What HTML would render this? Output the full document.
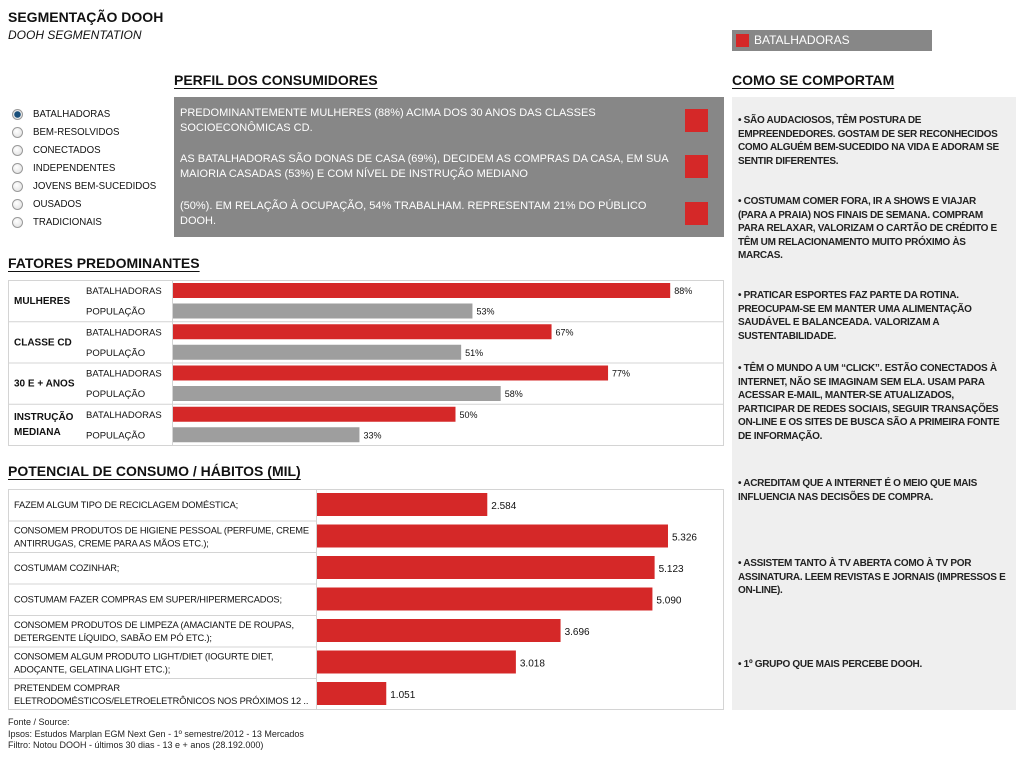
<!DOCTYPE html>
<html><head><meta charset="utf-8">
<style>
body{margin:0;width:1024px;height:768px;background:#fff;position:relative;font-family:"Liberation Sans",sans-serif;color:#111;overflow:hidden}
.a{position:absolute;white-space:nowrap}
.h{font-weight:bold;font-size:14px;text-decoration:underline;text-underline-offset:3px}
.rad{position:absolute;left:12px;width:11px;height:11px;border-radius:50%;border:1px solid #999;background:radial-gradient(circle at 40% 35%,#fff,#ddd);box-sizing:border-box}
.rt{position:absolute;left:33px;font-size:9.7px;white-space:nowrap}
.pt{position:absolute;left:180px;color:#fff;font-size:11px;line-height:15px;white-space:nowrap}
.rq{position:absolute;left:685px;width:23px;height:23px;background:#d52828}
.bp{position:absolute;left:738px;font-size:10px;letter-spacing:-0.3px;line-height:13.5px;font-weight:bold;color:#222;white-space:nowrap}
.ft{position:absolute;left:8px;font-size:9px;color:#222;white-space:nowrap}
</style></head><body>
<div class="a" style="left:8px;top:9px;font-weight:bold;font-size:14px">SEGMENTAÇÃO DOOH</div>
<div class="a" style="left:8px;top:28px;font-style:italic;font-size:12px">DOOH SEGMENTATION</div>

<div>
<div class="rad" style="top:109px;background:radial-gradient(circle,#1a4f7a 0 3px,#e8e8e8 3.5px)"></div><div class="rt" style="top:109px">BATALHADORAS</div>
<div class="rad" style="top:127px"></div><div class="rt" style="top:127px">BEM-RESOLVIDOS</div>
<div class="rad" style="top:145px"></div><div class="rt" style="top:145px">CONECTADOS</div>
<div class="rad" style="top:163px"></div><div class="rt" style="top:163px">INDEPENDENTES</div>
<div class="rad" style="top:181px"></div><div class="rt" style="top:181px">JOVENS BEM-SUCEDIDOS</div>
<div class="rad" style="top:199px"></div><div class="rt" style="top:199px">OUSADOS</div>
<div class="rad" style="top:217px"></div><div class="rt" style="top:217px">TRADICIONAIS</div>
</div>

<div class="a h" style="left:174px;top:72px">PERFIL DOS CONSUMIDORES</div>
<div class="a" style="left:174px;top:97px;width:550px;height:140px;background:#878787"></div>
<div class="pt" style="top:106px">PREDOMINANTEMENTE MULHERES (88%) ACIMA DOS 30 ANOS DAS CLASSES<br>SOCIOECONÔMICAS CD.</div>
<div class="pt" style="top:152px">AS BATALHADORAS SÃO DONAS DE CASA (69%), DECIDEM AS COMPRAS DA CASA, EM SUA<br>MAIORIA CASADAS (53%) E COM NÍVEL DE INSTRUÇÃO MEDIANO</div>
<div class="pt" style="top:199px">(50%). EM RELAÇÃO À OCUPAÇÃO, 54% TRABALHAM. REPRESENTAM 21% DO PÚBLICO<br>DOOH.</div>
<div class="rq" style="top:109px"></div>
<div class="rq" style="top:155px"></div>
<div class="rq" style="top:202px"></div>

<div class="a" style="left:732px;top:30px;width:200px;height:21px;background:#878787"><div style="position:absolute;left:4px;top:4px;width:13px;height:13px;background:#d52828"></div><div style="position:absolute;left:22px;top:3px;color:#fff;font-size:12px">BATALHADORAS</div></div>
<div class="a h" style="left:732px;top:72px">COMO SE COMPORTAM</div>
<div class="a" style="left:732px;top:97px;width:284px;height:613px;background:#efefef"></div>
<div class="bp" style="top:114px">• SÃO AUDACIOSOS, TÊM POSTURA DE<br>EMPREENDEDORES. GOSTAM DE SER RECONHECIDOS<br>COMO ALGUÉM BEM-SUCEDIDO NA VIDA E ADORAM SE<br>SENTIR DIFERENTES.</div>
<div class="bp" style="top:195px">• COSTUMAM COMER FORA, IR A SHOWS E VIAJAR<br>(PARA A PRAIA) NOS FINAIS DE SEMANA. COMPRAM<br>PARA RELAXAR, VALORIZAM O CARTÃO DE CRÉDITO E<br>TÊM UM RELACIONAMENTO MUITO PRÓXIMO ÀS<br>MARCAS.</div>
<div class="bp" style="top:289px">• PRATICAR ESPORTES FAZ PARTE DA ROTINA.<br>PREOCUPAM-SE EM MANTER UMA ALIMENTAÇÃO<br>SAUDÁVEL E BALANCEADA. VALORIZAM A<br>SUSTENTABILIDADE.</div>
<div class="bp" style="top:362px">• TÊM O MUNDO A UM “CLICK”. ESTÃO CONECTADOS À<br>INTERNET, NÃO SE IMAGINAM SEM ELA. USAM PARA<br>ACESSAR E-MAIL, MANTER-SE ATUALIZADOS,<br>PARTICIPAR DE REDES SOCIAIS, SEGUIR TRANSAÇÕES<br>ON-LINE E OS SITES DE BUSCA SÃO A PRIMEIRA FONTE<br>DE INFORMAÇÃO.</div>
<div class="bp" style="top:477px">• ACREDITAM QUE A INTERNET É O MEIO QUE MAIS<br>INFLUENCIA NAS DECISÕES DE COMPRA.</div>
<div class="bp" style="top:557px">• ASSISTEM TANTO À TV ABERTA COMO À TV POR<br>ASSINATURA. LEEM REVISTAS E JORNAIS (IMPRESSOS E<br>ON-LINE).</div>
<div class="bp" style="top:658px">• 1º GRUPO QUE MAIS PERCEBE DOOH.</div>

<div class="a h" style="left:8px;top:255px">FATORES PREDOMINANTES</div>
<svg class="a" id="fat" style="left:0;top:0" width="1024" height="768"></svg>

<div class="a h" style="left:8px;top:463px">POTENCIAL DE CONSUMO / HÁBITOS (MIL)</div>

<div class="ft" style="top:717px">Fonte / Source:</div>
<div class="ft" style="top:729px">Ipsos: Estudos Marplan EGM Next Gen - 1º semestre/2012 - 13 Mercados</div>
<div class="ft" style="top:740px">Filtro: Notou DOOH - últimos 30 dias - 13 e + anos (28.192.000)</div>

<script>
const fatCategories=[["MULHERES"],["CLASSE CD"],["30 E + ANOS"],["INSTRUÇÃO","MEDIANA"]];
const fatSeries=["BATALHADORAS","POPULAÇÃO"];
const fatBatalhadoras=[88,67,77,50];
const fatPopulacao=[53,51,58,33];
const potCategories=[["FAZEM ALGUM TIPO DE RECICLAGEM DOMÉSTICA;"],["CONSOMEM PRODUTOS DE HIGIENE PESSOAL (PERFUME, CREME","ANTIRRUGAS, CREME PARA AS MÃOS ETC.);"],["COSTUMAM COZINHAR;"],["COSTUMAM FAZER COMPRAS EM SUPER/HIPERMERCADOS;"],["CONSOMEM PRODUTOS DE LIMPEZA (AMACIANTE DE ROUPAS,","DETERGENTE LÍQUIDO, SABÃO EM PÓ ETC.);"],["CONSOMEM ALGUM PRODUTO LIGHT/DIET (IOGURTE DIET,","ADOÇANTE, GELATINA LIGHT ETC.);"],["PRETENDEM COMPRAR","ELETRODOMÉSTICOS/ELETROELETRÔNICOS NOS PRÓXIMOS 12 .."]];
const potValues=[2584,5326,5123,5090,3696,3018,1051];
const potLabels=["2.584","5.326","5.123","5.090","3.696","3.018","1.051"];

const svg=document.getElementById('fat');const NS='http://www.w3.org/2000/svg';
function mk(t,a,p){const e=document.createElementNS(NS,t);for(const k in a)e.setAttribute(k,a[k]);(p||svg).appendChild(e);return e;}
function txt(x,y,s,size,w,p,ls){const e=mk('text',{x:x,y:y,'font-size':size,'font-family':'Liberation Sans, sans-serif',fill:'#111','font-weight':w||'normal','letter-spacing':ls||0},p);e.textContent=s;return e;}
const fx=v=>173+v*5.65;
const fTop=280,fRow=41.25;
mk('rect',{x:8.5,y:280.5,width:715,height:165,fill:'none',stroke:'#d4d4d4'});
mk('line',{x1:172.5,y1:280,x2:172.5,y2:445,stroke:'#d4d4d4'});
fatCategories.forEach((c,i)=>{
  const y0=fTop+i*fRow;
  if(i>0){const l=mk('line',{x1:8,y1:y0+.5,x2:724,y2:y0+.5,stroke:'#d4d4d4'});}
  const g=mk('g',{});
  
  
  c.forEach((s,j)=>txt(14,y0+(c.length>1?16+j*15:24),s,10,'bold',g));
  [fatBatalhadoras[i],fatPopulacao[i]].forEach((v,j)=>{
    const by=y0+3+j*20.5;
    txt(86,by+11,fatSeries[j],9.5,'normal',g);
    const r=mk('rect',{x:173,y:by,width:fx(v)-173,height:15,fill:j?'#9e9e9e':'#d52828'},g);
    
    
    txt(fx(v)+4,by+11,v+'%',9,'normal',g);
  });
});
const px=v=>317+v*0.0659;
const pTop=489,pRow=31.5;
mk('rect',{x:8.5,y:489.5,width:715,height:220,fill:'none',stroke:'#d4d4d4'});
mk('line',{x1:316.5,y1:489,x2:316.5,y2:710,stroke:'#d4d4d4'});
potCategories.forEach((c,i)=>{
  const y0=pTop+i*pRow;
  if(i>0){const l=mk('line',{x1:8,y1:y0+.5,x2:316,y2:y0+.5,stroke:'#d4d4d4'});}
  const g=mk('g',{});
  
  
  c.forEach((s,j)=>txt(14,y0+(c.length>1?13+j*13:19),s,9.3,'normal',g,-0.15));
  const r=mk('rect',{x:317,y:y0+4,width:px(potValues[i])-317,height:23,fill:'#d52828'},g);
  
  
  txt(px(potValues[i])+4,y0+20,potLabels[i],10,'normal',g);
});
</script>
</body></html>
